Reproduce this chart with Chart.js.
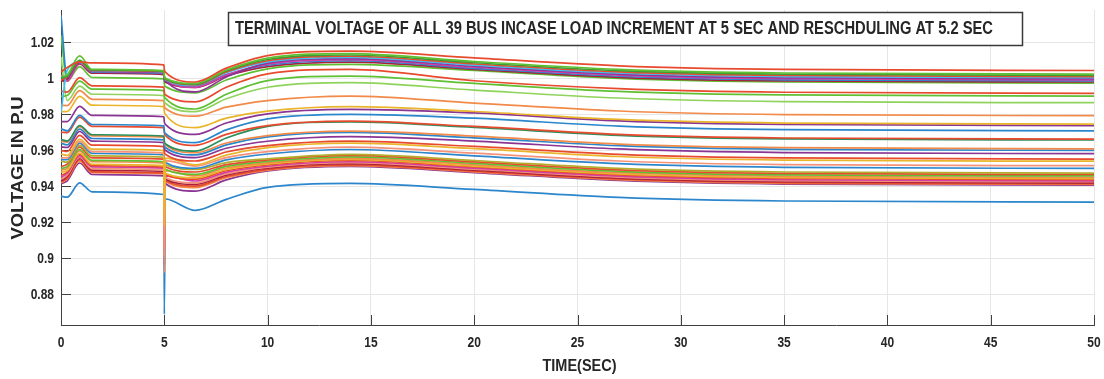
<!DOCTYPE html>
<html>
<head>
<meta charset="utf-8">
<script src="https://cdn.jsdelivr.net/npm/chart.js@4.4.1/dist/chart.umd.min.js"></script>
<style>
  html, body { margin: 0; padding: 0; background: #fff; }
</style>
</head>
<body>
<canvas id="voltageChart" width="1104" height="379"></canvas>
<script>
// sample times (s) shared by every bus trace
const timeSec = [0, 0.3, 0.9, 1.5, 4.98, 5, 5.05, 6.5, 8, 10, 14, 20, 27, 35, 50];

// terminal voltage (p.u.) of each bus at the times above
const bus01 = [1.0035, 1.0060, 1.0092, 1.0086, 1.0075, 1.0050, 1.0035, 0.9980, 1.0057, 1.0127, 1.0152, 1.0114, 1.0070, 1.0050, 1.0044];
const bus02 = [1.0010, 1.0020, 1.0125, 1.0050, 1.0043, 1.0016, 1.0001, 0.9972, 1.0047, 1.0113, 1.0138, 1.0094, 1.0050, 1.0030, 1.0024];
const bus03 = [1.0000, 1.0012, 1.0100, 1.0047, 1.0039, 1.0012, 0.9997, 0.9968, 1.0041, 1.0105, 1.0130, 1.0087, 1.0043, 1.0023, 1.0017];
const bus04 = [0.9990, 1.0008, 1.0095, 1.0045, 1.0037, 1.0010, 0.9995, 0.9965, 1.0036, 1.0098, 1.0123, 1.0080, 1.0036, 1.0016, 1.0010];
const bus05 = [0.9810, 1.0045, 1.0090, 1.0043, 1.0035, 1.0008, 0.9993, 0.9962, 1.0032, 1.0092, 1.0117, 1.0074, 1.0030, 1.0010, 1.0004];
const bus06 = [0.9995, 1.0003, 1.0088, 1.0041, 1.0033, 1.0006, 0.9991, 0.9925, 1.0008, 1.0085, 1.0110, 1.0068, 1.0024, 1.0004, 0.9998];
const bus07 = [1.0020, 0.9985, 1.0085, 1.0039, 1.0031, 1.0004, 0.9989, 0.9950, 1.0019, 1.0079, 1.0104, 1.0062, 1.0018, 0.9998, 0.9992];
const bus08 = [1.0350, 1.0005, 1.0095, 1.0035, 1.0027, 1.0000, 0.9985, 0.9958, 1.0021, 1.0073, 1.0098, 1.0056, 1.0012, 0.9992, 0.9986];
const bus09 = [0.9985, 0.9994, 1.0080, 1.0029, 1.0021, 0.9994, 0.9979, 0.9950, 1.0013, 1.0065, 1.0090, 1.0050, 1.0006, 0.9986, 0.9980];
const bus10 = [1.0240, 0.9985, 1.0065, 1.0005, 0.9997, 0.9970, 0.9955, 0.9920, 0.9991, 1.0053, 1.0078, 1.0044, 1.0000, 0.9980, 0.9974];
const bus11 = [0.9930, 0.9924, 1.0004, 0.9959, 0.9951, 0.9924, 0.9909, 0.9870, 0.9951, 1.0025, 1.0050, 0.9987, 0.9943, 0.9923, 0.9917];
const bus12 = [0.9900, 0.9905, 0.9985, 0.9940, 0.9932, 0.9905, 0.9890, 0.9830, 0.9912, 0.9988, 1.0013, 0.9972, 0.9928, 0.9908, 0.9902];
const bus13 = [1.0120, 0.9877, 0.9957, 0.9912, 0.9904, 0.9877, 0.9862, 0.9815, 0.9887, 0.9951, 0.9976, 0.9935, 0.9891, 0.9871, 0.9865];
const bus14 = [0.9850, 0.9849, 0.9932, 0.9884, 0.9876, 0.9849, 0.9834, 0.9790, 0.9840, 0.9877, 0.9902, 0.9863, 0.9819, 0.9799, 0.9793];
const bus15 = [0.9815, 0.9816, 0.9900, 0.9851, 0.9843, 0.9816, 0.9801, 0.9726, 0.9779, 0.9818, 0.9843, 0.9816, 0.9772, 0.9752, 0.9746];
const bus16 = [0.9760, 0.9760, 0.9845, 0.9795, 0.9787, 0.9760, 0.9745, 0.9689, 0.9752, 0.9803, 0.9828, 0.9808, 0.9764, 0.9744, 0.9738];
const bus17 = [0.9720, 0.9709, 0.9795, 0.9744, 0.9736, 0.9709, 0.9694, 0.9643, 0.9714, 0.9775, 0.9800, 0.9779, 0.9735, 0.9715, 0.9709];
const bus18 = [0.9700, 0.9699, 0.9785, 0.9734, 0.9726, 0.9699, 0.9684, 0.9628, 0.9689, 0.9738, 0.9763, 0.9733, 0.9689, 0.9669, 0.9663];
const bus19 = [0.9660, 0.9652, 0.9738, 0.9687, 0.9679, 0.9652, 0.9637, 0.9596, 0.9669, 0.9733, 0.9758, 0.9728, 0.9684, 0.9664, 0.9658];
const bus20 = [0.9650, 0.9646, 0.9732, 0.9681, 0.9673, 0.9646, 0.9631, 0.9587, 0.9641, 0.9682, 0.9707, 0.9679, 0.9635, 0.9615, 0.9609];
const bus21 = [0.9640, 0.9631, 0.9718, 0.9666, 0.9658, 0.9631, 0.9616, 0.9575, 0.9631, 0.9675, 0.9700, 0.9670, 0.9626, 0.9606, 0.9600];
const bus22 = [0.9620, 0.9616, 0.9705, 0.9651, 0.9643, 0.9616, 0.9601, 0.9560, 0.9612, 0.9651, 0.9676, 0.9652, 0.9608, 0.9588, 0.9582];
const bus23 = [0.9600, 0.9594, 0.9684, 0.9629, 0.9621, 0.9594, 0.9579, 0.9541, 0.9591, 0.9627, 0.9652, 0.9622, 0.9578, 0.9558, 0.9552];
const bus24 = [0.9580, 0.9572, 0.9662, 0.9607, 0.9599, 0.9180, 0.9557, 0.9520, 0.9574, 0.9615, 0.9640, 0.9610, 0.9566, 0.9546, 0.9540];
const bus25 = [0.9560, 0.9558, 0.9650, 0.9593, 0.9585, 0.9010, 0.9543, 0.9513, 0.9560, 0.9593, 0.9618, 0.9585, 0.9541, 0.9521, 0.9515];
const bus26 = [0.9550, 0.9548, 0.9640, 0.9583, 0.9575, 0.9548, 0.9533, 0.9500, 0.9547, 0.9580, 0.9605, 0.9570, 0.9526, 0.9506, 0.9500];
const bus27 = [0.9540, 0.9535, 0.9628, 0.9570, 0.9562, 0.9535, 0.9520, 0.9494, 0.9532, 0.9553, 0.9578, 0.9544, 0.9500, 0.9480, 0.9474];
const bus28 = [0.9510, 0.9524, 0.9618, 0.9559, 0.9551, 0.9524, 0.9509, 0.9480, 0.9521, 0.9547, 0.9572, 0.9536, 0.9492, 0.9472, 0.9466];
const bus29 = [0.9500, 0.9510, 0.9605, 0.9545, 0.9537, 0.9510, 0.9495, 0.9467, 0.9511, 0.9539, 0.9564, 0.9528, 0.9484, 0.9464, 0.9458];
const bus30 = [0.9490, 0.9502, 0.9597, 0.9537, 0.9529, 0.8920, 0.9487, 0.9458, 0.9502, 0.9531, 0.9556, 0.9520, 0.9476, 0.9456, 0.9450];
const bus31 = [0.9480, 0.9488, 0.9585, 0.9523, 0.9515, 0.9488, 0.9473, 0.9448, 0.9494, 0.9525, 0.9550, 0.9513, 0.9469, 0.9449, 0.9443];
const bus32 = [0.9460, 0.9480, 0.9578, 0.9515, 0.9507, 0.9480, 0.9465, 0.9440, 0.9487, 0.9519, 0.9544, 0.9508, 0.9464, 0.9444, 0.9438];
const bus33 = [0.9450, 0.9474, 0.9570, 0.9509, 0.9501, 0.8960, 0.9459, 0.9430, 0.9478, 0.9512, 0.9537, 0.9501, 0.9457, 0.9437, 0.9431];
const bus34 = [0.9440, 0.9464, 0.9562, 0.9499, 0.9491, 0.9464, 0.9449, 0.9420, 0.9470, 0.9507, 0.9532, 0.9496, 0.9452, 0.9432, 0.9426];
const bus35 = [0.9430, 0.9455, 0.9555, 0.9490, 0.9482, 0.9455, 0.9440, 0.9411, 0.9463, 0.9501, 0.9526, 0.9490, 0.9446, 0.9426, 0.9420];
const bus36 = [0.9425, 0.9446, 0.9548, 0.9481, 0.9473, 0.9446, 0.9431, 0.9402, 0.9455, 0.9495, 0.9520, 0.9485, 0.9441, 0.9421, 0.9415];
const bus37 = [0.9420, 0.9442, 0.9540, 0.9477, 0.9469, 0.9442, 0.9427, 0.9393, 0.9448, 0.9490, 0.9515, 0.9481, 0.9437, 0.9417, 0.9411];
const bus38 = [0.9415, 0.9431, 0.9530, 0.9466, 0.9458, 0.9431, 0.9416, 0.9374, 0.9436, 0.9486, 0.9511, 0.9477, 0.9433, 0.9413, 0.9407];
const bus39 = [0.9345, 0.9340, 0.9420, 0.9370, 0.9355, 0.8690, 0.9330, 0.9267, 0.9328, 0.9395, 0.9417, 0.9383, 0.9339, 0.9319, 0.9313];

const busTraces = [bus01, bus02, bus03, bus04, bus05, bus06, bus07, bus08, bus09, bus10,
                   bus11, bus12, bus13, bus14, bus15, bus16, bus17, bus18, bus19, bus20,
                   bus21, bus22, bus23, bus24, bus25, bus26, bus27, bus28, bus29, bus30,
                   bus31, bus32, bus33, bus34, bus35, bus36, bus37, bus38, bus39];

// line colours, one per trace
const RED = '#e84a2e', GREEN = '#5fc032', DKGREEN = '#3f9b35', LTGREEN = '#8fd35c',
      BLUE = '#2b86cc', LTBLUE = '#45bdf0', PURPLE = '#8a3494', MAGENTA = '#d23fa8',
      DKRED = '#a8203c', ORANGE = '#f28a4a', SALMON = '#f5937a', YELLOW = '#eab52a',
      OLIVE = '#b3ad2e', TEAL = '#2e8f5e';
const busColors = [RED, GREEN, DKGREEN, RED, LTBLUE, PURPLE, MAGENTA, BLUE, DKRED, GREEN,
                   RED, GREEN, LTGREEN, ORANGE, YELLOW, PURPLE, BLUE, RED, TEAL, ORANGE,
                   BLUE, PURPLE, RED, YELLOW, SALMON, BLUE, OLIVE, RED, GREEN, ORANGE,
                   YELLOW, RED, MAGENTA, SALMON, DKRED, RED, ORANGE, PURPLE, BLUE];

// axis ticks
const xTickValues = [0, 5, 10, 15, 20, 25, 30, 35, 40, 45, 50];
const xTickLabels = ['0', '5', '10', '15', '20', '25', '30', '35', '40', '45', '50'];
const yTickValues = [0.88, 0.9, 0.92, 0.94, 0.96, 0.98, 1, 1.02];
const yTickLabels = ['0.88', '0.9', '0.92', '0.94', '0.96', '0.98', '1', '1.02'];

const titleText = 'TERMINAL VOLTAGE OF ALL 39 BUS INCASE LOAD INCREMENT AT 5 SEC AND RESCHDULING AT 5.2 SEC';
const xTitle = 'TIME(SEC)';
const yTitle = 'VOLTAGE IN P.U';

const SANS = '"Liberation Sans", Arial, sans-serif';
const INK = '#262626';
const AXIS_INK = '#404040';

// draw text at (x, y) squeezed horizontally by sx
function squeezedText(ctx, text, x, y, sx, font, align, angle) {
  ctx.save();
  ctx.font = font;
  ctx.translate(x, y);
  if (angle) ctx.rotate(angle);
  ctx.scale(sx, 1);
  ctx.textAlign = align;
  ctx.textBaseline = 'middle';
  ctx.fillStyle = INK;
  ctx.fillText(text, 0, 0);
  ctx.restore();
}

// same, but squeezed so the text fills a given width
function fitText(ctx, text, cx, cy, width, font, angle) {
  ctx.save();
  ctx.font = font;
  const w = ctx.measureText(text).width;
  ctx.restore();
  squeezedText(ctx, text, cx, cy, width / w, font, 'center', angle);
}

// inward tick marks, tick labels, title box and axis titles
const axisDecor = {
  id: 'axisDecor',
  beforeDatasetsDraw(chart) {
    const { ctx, chartArea: a, scales: { x, y } } = chart;
    ctx.save();
    ctx.strokeStyle = AXIS_INK;
    ctx.lineWidth = 1;
    ctx.beginPath();
    xTickValues.forEach(v => {
      const px = Math.round(x.getPixelForValue(v)) + 0.5;
      ctx.moveTo(px, a.bottom);
      ctx.lineTo(px, a.bottom - 10);
    });
    yTickValues.forEach(v => {
      const py = Math.round(y.getPixelForValue(v)) + 0.5;
      ctx.moveTo(a.left, py);
      ctx.lineTo(a.left + 10, py);
    });
    ctx.stroke();
    ctx.restore();
  },
  afterDraw(chart) {
    const { ctx, chartArea: a, scales: { x, y } } = chart;
    const tickFont = 'bold 15px ' + SANS;
    xTickValues.forEach((v, i) => {
      squeezedText(ctx, xTickLabels[i], x.getPixelForValue(v), a.bottom + 18, 0.8, tickFont, 'center');
    });
    yTickValues.forEach((v, i) => {
      squeezedText(ctx, yTickLabels[i], a.left - 7, y.getPixelForValue(v), 0.8, tickFont, 'right');
    });
    // title box
    ctx.save();
    ctx.fillStyle = '#fff';
    ctx.fillRect(228, 12, 795, 34);
    ctx.strokeStyle = '#3a3a3a';
    ctx.lineWidth = 1.5;
    ctx.strokeRect(228.5, 12.5, 794, 33);
    ctx.restore();
    fitText(ctx, titleText, 614, 29.5, 758, 'bold 18px ' + SANS);
    // axis titles
    fitText(ctx, xTitle, (a.left + a.right) / 2 + 2, 366, 74, 'bold 17px ' + SANS);
    fitText(ctx, yTitle, 18, 168, 143, 'bold 17px ' + SANS, -Math.PI / 2);
  }
};

new Chart(document.getElementById('voltageChart'), {
  type: 'line',
  data: {
    datasets: busTraces.map((trace, i) => ({
      data: timeSec.map((t, k) => ({ x: t, y: trace[k] })),
      borderColor: busColors[i],
      borderWidth: 1.7,
      pointRadius: 0,
      fill: false,
      cubicInterpolationMode: 'monotone'
    }))
  },
  options: {
    responsive: false,
    animation: false,
    layout: { padding: { left: 0, right: 10, top: 10, bottom: 0 } },
    plugins: {
      legend: { display: false },
      title: { display: false },
      tooltip: { enabled: false }
    },
    scales: {
      x: {
        type: 'linear',
        min: 0,
        max: 50,
        afterBuildTicks: s => { s.ticks = xTickValues.map(v => ({ value: v })); },
        afterFit: s => { s.height = 54; },
        ticks: { display: false },
        grid: { color: '#e6e6e6', drawTicks: false },
        border: { color: AXIS_INK, width: 1 }
      },
      y: {
        type: 'linear',
        min: 0.863,
        max: 1.038,
        afterBuildTicks: s => { s.ticks = yTickValues.map(v => ({ value: v })); },
        afterFit: s => { s.width = 61; },
        ticks: { display: false },
        grid: { color: '#e6e6e6', drawTicks: false },
        border: { color: AXIS_INK, width: 1 }
      }
    }
  },
  plugins: [axisDecor]
});
</script>
</body>
</html>
